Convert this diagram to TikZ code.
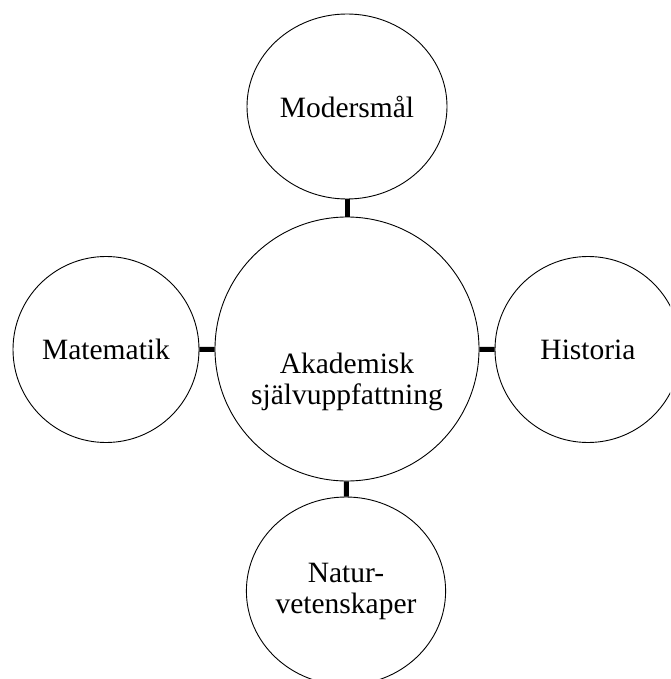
\documentclass[tikz,border=0pt]{standalone}
\usepackage{fontspec}
\setmainfont{Liberation Serif}
\usetikzlibrary{shapes.geometric}

\begin{document}
\begin{tikzpicture}[
    x=1pt, y=-1pt,
    subject/.style={ellipse, draw, line width=0.9pt, minimum width=186pt, minimum height=186pt,
                    inner sep=0pt, align=center, font=\fontsize{29.5}{31}\selectfont},
    link/.style={line width=5pt},
]
    \clip (0,0) rectangle (670,679);

    % Centre and the four subjects
    \node[subject, minimum width=264pt, minimum height=264pt] (core) at (347, 349) {};
    \node[align=center, font=\fontsize{29.5}{31}\selectfont] (coretext) at (347, 382) {Akademisk\\självuppfattning};
    \node[subject, minimum width=200pt, minimum height=185pt] (moder) at (347, 106.5) {Modersmål};
    \node[subject] (mat) at (106, 349.5) {Matematik};
    \node[subject] (hist) at (588, 349.5) {Historia};
    \node[subject, minimum width=197pt, minimum height=188pt] (natur) at (346, 591) {Natur-\\vetenskaper};

    \draw[link] (moder) -- (core);
    \draw[link] (mat) -- (core);
    \draw[link] (hist) -- (core);
    \draw[link] (natur) -- (core);
\end{tikzpicture}
\end{document}
